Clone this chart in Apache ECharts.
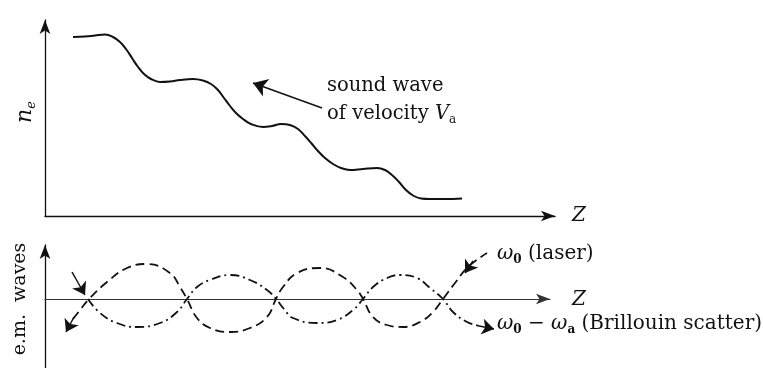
<!DOCTYPE html>
<html>
<head>
<meta charset="utf-8">
<script src="https://cdn.jsdelivr.net/npm/echarts@6/dist/echarts.min.js"></script>
<style>
  html, body { margin: 0; padding: 0; background: #fff; }
  #chart { width: 763px; height: 368px; }
</style>
</head>
<body>
<div id="chart"></div>
<script>
// Upper panel: electron density n_e along Z (a travelling sound wave on a falling profile)
const soundZ  = [5.6, 8, 10, 12, 13.6, 15, 16.2, 17.4, 18.6, 19.8, 21.2, 23, 25, 27, 29.6, 31.6, 33.2, 34.6,
                 35.8, 37, 38.2, 39.6, 41.2, 43.6, 45.4, 47.2, 49, 50.6, 52, 53.4, 54.6, 56, 57.6, 59.2,
                 61, 63.6, 66.4, 68, 69.4, 70.8, 72.2, 73.6, 75.2, 77, 80, 83.4];
const soundNe = [89.5, 89.75, 90.25, 90.75, 89.5, 87, 83.5, 79, 74.5, 71, 68.5, 67, 67.25, 68, 68.5, 67.75, 66, 63,
                 59, 55, 51.5, 48.5, 46, 44.5, 45, 46, 45.5, 43.5, 40, 36, 32.5, 29, 26, 24,
                 23, 23.5, 24, 23, 20.5, 17, 13, 10.25, 8.75, 8.5, 8.5, 8.75];

// Lower panel: the two e.m. waves crossing the Z axis
const laserZ = [5.6, 7, 8.8, 12.4, 16.4, 20.4, 25, 27, 28.4, 30.4, 33, 37, 41, 44.4, 46.2, 47.6, 50.4, 55,
                59.6, 62.4, 63.6, 65.6, 68.4, 71.6, 75, 77.6, 79.6, 82, 84.6, 88.4];
const laserE = [-2.0, -1.1, 0, 1.7, 3.1, 3.5, 2.6, 1.2, 0, -1.9, -2.9, -3.3, -2.9, -1.8, 0, 1.2, 2.6, 3.1,
                2.2, 0.9, 0, -1.8, -2.6, -2.8, -2.3, -1.3, 0, 1.6, 3.2, 4.6];

const brillZ = [8.6, 11, 14.4, 18.4, 23, 26.4, 28.4, 30.4, 33, 37, 41, 44.4, 46.2, 47.8, 49.6, 54.4, 58.4,
                61.6, 63.6, 65.6, 68.4, 71, 74.4, 77, 79.6, 81.6, 84.4, 87];
const brillE = [0, -1.4, -2.4, -2.8, -2.4, -1.3, 0, 1.2, 1.9, 2.4, 1.9, 0.9, 0, -1.0, -1.9, -2.4, -2.1,
                -1.1, 0, 1.2, 2.1, 2.4, 2.1, 1.1, 0, -1.3, -2.3, -2.7];

// Arrow segments [start, tip]
const soundArrow    = [[55.4, 54], [41.6, 66.5]];
const incomingArrow = [[5.4, 2.7], [8, 0.4]];
const laserHeadIn   = [[85.6, 3.8], [84.0, 2.6]];
const laserHeadOut  = [[5.8, -1.8], [4.2, -3.3]];
const brillHeadOut  = [[86.6, -2.68], [89.8, -3.0]];

const zip = (xs, ys) => xs.map((x, i) => [x, ys[i]]);
const SERIF = 'DejaVu Serif';
const INK = '#111';

const chart = echarts.init(document.getElementById('chart'), null, { renderer: 'canvas' });

const axisArrow = (color, width) => ({
  show: true,
  onZero: true,
  symbol: ['none', 'arrow'],
  symbolSize: [8, 14],
  lineStyle: { color: color, width: width }
});
const bareAxis = {
  axisTick: { show: false },
  axisLabel: { show: false },
  splitLine: { show: false }
};

// rich-text styles shared by the ω labels
const omegaRich = {
  w: { fontFamily: SERIF, fontStyle: 'italic', fontSize: 20, lineHeight: 24, fill: INK },
  z: { fontFamily: SERIF, fontWeight: 'bold', fontSize: 12, lineHeight: 13, verticalAlign: 'bottom', fill: INK },
  r: { fontFamily: SERIF, fontSize: 20, lineHeight: 24, fill: INK }
};

chart.setOption({
  animation: false,
  backgroundColor: '#fff',
  grid: [
    { left: 45, right: 208, top: 20, bottom: 152 },
    { left: 45, right: 213, top: 245, bottom: 0 }
  ],
  xAxis: [
    Object.assign({ type: 'value', gridIndex: 0, min: 0, max: 102, axisLine: axisArrow(INK, 1.3) }, bareAxis),
    Object.assign({ type: 'value', gridIndex: 1, min: 0, max: 101, axisLine: axisArrow('#333', 1.1) }, bareAxis)
  ],
  yAxis: [
    Object.assign({ type: 'value', gridIndex: 0, min: 0, max: 98, axisLine: axisArrow(INK, 1.3) }, bareAxis),
    Object.assign({ type: 'value', gridIndex: 1, min: -6.9, max: 5.4, axisLine: axisArrow(INK, 1.3) }, bareAxis)
  ],
  series: [
    {
      name: 'n_e', type: 'line', xAxisIndex: 0, yAxisIndex: 0,
      data: zip(soundZ, soundNe), smooth: 0.4, showSymbol: false, silent: true,
      lineStyle: { color: INK, width: 2 }
    },
    {
      name: 'laser', type: 'line', xAxisIndex: 1, yAxisIndex: 1,
      data: zip(laserZ, laserE), smooth: 0.45, showSymbol: false, silent: true,
      lineStyle: { color: INK, width: 1.8, type: [9, 5] }
    },
    {
      name: 'Brillouin', type: 'line', xAxisIndex: 1, yAxisIndex: 1,
      data: zip(brillZ, brillE), smooth: 0.45, showSymbol: false, silent: true,
      lineStyle: { color: INK, width: 1.8, type: [9, 4, 2, 4] }
    },
    {
      name: 'soundArrow', type: 'lines', coordinateSystem: 'cartesian2d', xAxisIndex: 0, yAxisIndex: 0,
      symbol: ['none', 'arrow'], symbolSize: [8, 14], silent: true,
      lineStyle: { color: INK, width: 1.4, opacity: 1 },
      data: [{ coords: soundArrow }]
    },
    {
      name: 'waveArrows', type: 'lines', coordinateSystem: 'cartesian2d', xAxisIndex: 1, yAxisIndex: 1,
      symbol: ['none', 'arrow'], symbolSize: [8, 12], silent: true,
      lineStyle: { color: INK, width: 1.5, opacity: 1 },
      data: [
        { coords: incomingArrow },
        { coords: laserHeadIn },
        { coords: laserHeadOut },
        { coords: brillHeadOut }
      ]
    }
  ],
  graphic: [
    {
      type: 'text', x: 25, y: 112, rotation: Math.PI / 2,
      style: {
        text: '{n|n}{e|e}', align: 'center', verticalAlign: 'middle', fill: INK,
        rich: {
          n: { fontFamily: SERIF, fontStyle: 'italic', fontSize: 22, lineHeight: 26, fill: INK },
          e: { fontFamily: SERIF, fontStyle: 'italic', fontSize: 13, lineHeight: 14, verticalAlign: 'bottom', fill: INK }
        }
      }
    },
    {
      type: 'text', x: 20, y: 299, rotation: Math.PI / 2,
      style: {
        text: 'e.m.  waves', align: 'center', verticalAlign: 'middle', fill: INK,
        fontFamily: SERIF, fontSize: 19
      }
    },
    {
      type: 'text', x: 327, y: 86,
      style: { text: 'sound wave', align: 'left', verticalAlign: 'middle', fill: INK, fontFamily: SERIF, fontSize: 19.5 }
    },
    {
      type: 'text', x: 327, y: 114,
      style: {
        text: '{r|of velocity }{v|V}{s|a}', align: 'left', verticalAlign: 'middle', fill: INK,
        rich: {
          r: { fontFamily: SERIF, fontSize: 19.5, lineHeight: 24, fill: INK },
          v: { fontFamily: SERIF, fontStyle: 'italic', fontSize: 19.5, lineHeight: 24, fill: INK },
          s: { fontFamily: SERIF, fontSize: 12, lineHeight: 13, verticalAlign: 'bottom', fill: INK }
        }
      }
    },
    {
      type: 'text', x: 572, y: 216,
      style: { text: 'Z', align: 'left', verticalAlign: 'middle', fill: INK, fontFamily: SERIF, fontStyle: 'italic', fontSize: 20 }
    },
    {
      type: 'text', x: 572, y: 300,
      style: { text: 'Z', align: 'left', verticalAlign: 'middle', fill: INK, fontFamily: SERIF, fontStyle: 'italic', fontSize: 20 }
    },
    {
      type: 'text', x: 497, y: 254,
      style: { text: '{w|ω}{z|0}{r| (laser)}', align: 'left', verticalAlign: 'middle', fill: INK, rich: omegaRich }
    },
    {
      type: 'text', x: 762, y: 324,
      style: {
        text: '{w|ω}{z|0}{r| − }{w|ω}{z|a}{r| (Brillouin scatter)}', align: 'right', verticalAlign: 'middle', fill: INK,
        rich: omegaRich
      }
    }
  ]
});
</script>
</body>
</html>
